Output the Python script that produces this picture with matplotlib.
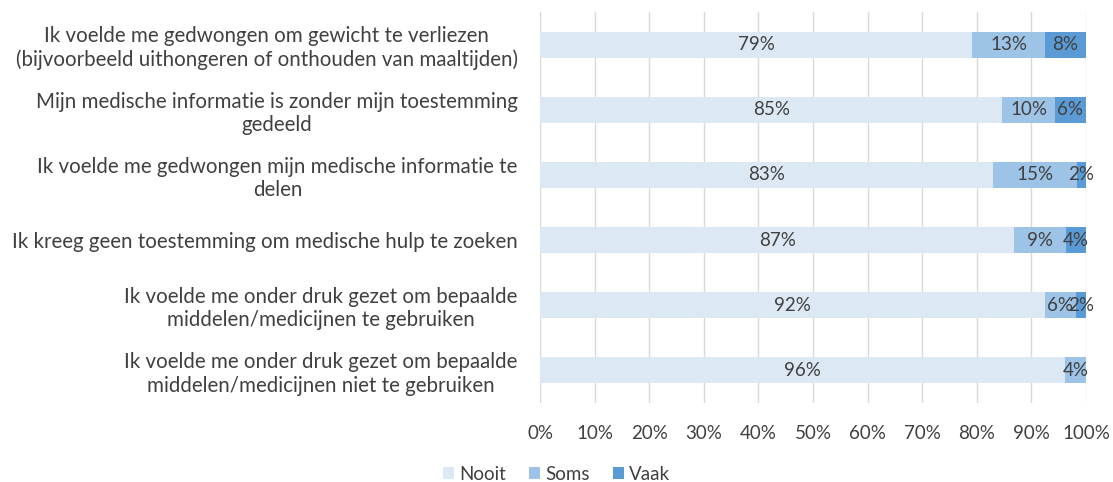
import matplotlib
matplotlib.use("Agg")
import matplotlib.pyplot as plt
from matplotlib.ticker import PercentFormatter

plt.rcParams['font.family'] = ['Lato', 'DejaVu Sans']

categories = [
    "Ik voelde me gedwongen om gewicht te verliezen\n(bijvoorbeeld uithongeren of onthouden van maaltijden)",
    "Mijn medische informatie is zonder mijn toestemming\ngedeeld",
    "Ik voelde me gedwongen mijn medische informatie te\ndelen",
    "Ik kreeg geen toestemming om medische hulp te zoeken",
    "Ik voelde me onder druk gezet om bepaalde\nmiddelen/medicijnen te gebruiken",
    "Ik voelde me onder druk gezet om bepaalde\nmiddelen/medicijnen niet te gebruiken",
]
series_names = ["Nooit", "Soms", "Vaak"]
nooit = [79.2, 84.7, 83.0, 86.9, 92.4, 96.2]
soms = [13.3, 9.6, 15.3, 9.4, 5.8, 3.8]
vaak = [7.5, 5.7, 1.7, 3.7, 1.8, 0.0]
colors = ["#dde8f5", "#9dc3e6", "#5b9bd5"]
text_color = "#404040"

fig = plt.figure(figsize=(11.13, 4.82), dpi=100)
ax = fig.add_axes([540/1113, 1 - 403/482, 546/1113, 391/482])

y = list(range(len(categories)))
left = [0.0] * len(categories)
for name, vals, col in zip(series_names, [nooit, soms, vaak], colors):
    ax.barh(y, vals, left=left, height=0.4, color=col, label=name, zorder=3)
    for yi, l, v in zip(y, left, vals):
        if v > 0:
            ax.text(l + v / 2, yi, f"{round(v)}%", ha="center", va="center",
                    fontsize=13.5, color=text_color, zorder=4)
    left = [a + b for a, b in zip(left, vals)]

ax.set_xlim(0, 100)
ax.set_ylim(len(categories) - 0.5, -0.5)
ax.set_xticks(range(0, 101, 10))
ax.xaxis.set_major_formatter(PercentFormatter(decimals=0))
ax.set_yticks(y)
ax.set_yticklabels(categories, fontsize=14.8, color=text_color, multialignment="center")
ax.tick_params(axis="y", length=0, pad=16)
ax.tick_params(axis="x", length=0, pad=16, labelsize=13.5, labelcolor=text_color)
ax.grid(axis="x", color="#d9d9d9", linewidth=1, zorder=0)
for s in ax.spines.values():
    s.set_visible(False)

leg = fig.legend(loc="center", bbox_to_anchor=(0.5, 1 - 474/482), ncol=3, frameon=False,
                 fontsize=13.5, handlelength=0.6, handleheight=0.6, handletextpad=0.3,
                 columnspacing=1.2)
for t in leg.get_texts():
    t.set_color(text_color)

fig.savefig("out.png", dpi=100)
